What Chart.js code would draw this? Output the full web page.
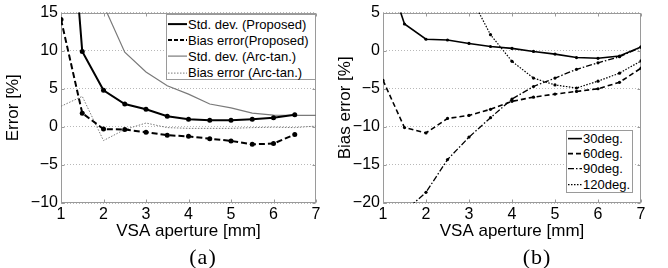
<!DOCTYPE html>
<html>
<head>
<meta charset="utf-8">
<script src="https://cdn.jsdelivr.net/npm/chart.js@4"></script>
<style>
  html, body { margin: 0; padding: 0; background: #fff; }
  body { width: 668px; height: 268px; position: relative; overflow: hidden; font-family: "Liberation Sans", Arial, sans-serif; }
  canvas { position: absolute; top: 0; }
  .legend { position: absolute; background: #fff; border: 1px solid #9a9a9a; box-sizing: border-box; font-size: 13px; color: #000; }
  .legend .row { display: flex; align-items: center; white-space: nowrap; }
  .legend svg { flex: none; }
  .caption { position: absolute; font-family: "Liberation Serif", "Times New Roman", serif; font-size: 22px; color: #000; transform: translateX(-50%); line-height: 1; letter-spacing: 1px; }
</style>
</head>
<body>
<canvas id="cA" width="334" height="245" style="left:0"></canvas>
<canvas id="cB" width="334" height="245" style="left:334px"></canvas>
<div id="legA" class="legend" style="left:166px; top:14px; width:150px; height:66px; padding-top:1px;"></div>
<div id="legB" class="legend" style="left:566px; top:130px; width:67px; height:63px;"></div>
<div class="caption" style="left:203px; top:246px;">(a)</div>
<div class="caption" style="left:537px; top:246px;">(b)</div>
<script>
// ---- data ----
const apertures = [1, 1.5, 2, 2.5, 3, 3.5, 4, 4.5, 5, 5.5, 6, 6.5, 7];
const xTicks = [1, 2, 3, 4, 5, 6, 7];

// (a) Error [%]
const stdProposed  = [45, 9.9, 4.8, 3.0, 2.3, 1.4, 1.0, 0.85, 0.85, 1.0, 1.2, 1.6, null];
const biasProposed = [14.1, 1.8, -0.3, -0.35, -0.7, -1.1, -1.25, -1.55, -1.85, -2.3, -2.2, -1.0, null];
const stdArctan    = [50, 30, 16, 9.8, 7.2, 5.4, 4.3, 3.0, 2.5, 1.8, 1.55, 1.5, 1.5];
const biasArctan   = [2.7, 4.0, -1.8, -0.35, 0.5, -0.1, -0.2, -0.2, -0.2, -0.1, -0.05, -0.1, 0.1];
const yTicksA = [-10, -5, 0, 5, 10, 15];

// (b) Bias error [%]
const deg30  = [12, 3.5, 1.5, 1.4, 0.95, 0.55, 0.3, -0.1, -0.45, -0.9, -1.0, -0.7, 0.5];
const deg60  = [-3.9, -10.1, -10.8, -8.9, -8.5, -7.7, -6.65, -6.1, -5.7, -5.35, -5.0, -4.15, -2.3];
const deg90  = [-27, -21.1, -18.6, -14.3, -11.35, -8.8, -6.35, -4.7, -3.6, -2.45, -1.6, -0.8, 0.45];
const deg120 = [60, 40, 25, 14, 7.5, 2.1, -1.4, -3.6, -4.5, -4.9, -4.0, -2.95, -1.35];
const yTicksB = [-20, -15, -10, -5, 0, 5];

const labelsA = ['Std. dev. (Proposed)', 'Bias error(Proposed)', 'Std. dev. (Arc-tan.)', 'Bias error (Arc-tan.)'];
const labelsB = ['30deg.', '60deg.', '90deg.', '120deg.'];

// ---- helpers ----
const pts = arr => apertures.map((x, i) => ({ x, y: arr[i] }));
const FONT = '"Liberation Sans", Arial, sans-serif';

const boxPlugin = {
  id: 'box',
  beforeDatasetsDraw(chart) {
    const { ctx, chartArea: a, scales: { x, y } } = chart;
    const L = Math.round(a.left) + 0.5, R = Math.round(a.right) - 0.5;
    const T = Math.round(a.top) + 0.5, B = Math.round(a.bottom) - 0.5;
    ctx.save();
    ctx.strokeStyle = '#9a9a9a';
    ctx.lineWidth = 1;
    ctx.setLineDash([]);
    ctx.strokeRect(L, T, R - L, B - T);
    ctx.beginPath();
    x.ticks.forEach(t => {
      const px = Math.round(x.getPixelForValue(t.value)) + 0.5;
      ctx.moveTo(px, T); ctx.lineTo(px, T + 3);
      ctx.moveTo(px, B); ctx.lineTo(px, B - 3);
    });
    y.ticks.forEach(t => {
      const py = Math.round(y.getPixelForValue(t.value)) + 0.5;
      ctx.moveTo(L, py); ctx.lineTo(L + 3, py);
      ctx.moveTo(R, py); ctx.lineTo(R - 3, py);
    });
    ctx.stroke();
    ctx.restore();
  }
};

function makeChart(id, datasets, yMin, yMax, yTicks, yTitle, plotLeft, padLeft, padRight) {
  return new Chart(document.getElementById(id), {
    type: 'line',
    data: { datasets },
    plugins: [boxPlugin],
    options: {
      responsive: false,
      animation: false,
      devicePixelRatio: 1,
      layout: { padding: { left: padLeft, right: padRight, top: 12, bottom: 0 } },
      plugins: { legend: { display: false }, tooltip: { enabled: false } },
      elements: { line: { tension: 0 } },
      scales: {
        x: {
          type: 'linear', min: 1, max: 7,
          afterBuildTicks: s => { s.ticks = xTicks.map(v => ({ value: v })); },
          afterFit: s => { s.height = 42; },
          grid: { display: false, drawTicks: false },
          border: { display: false },
          ticks: { color: '#000', font: { family: FONT, size: 16 }, padding: 2, maxRotation: 0 },
          title: { display: true, text: 'VSA aperture [mm]', color: '#000', font: { family: FONT, size: 17 }, padding: { top: 0, bottom: 3 } }
        },
        y: {
          type: 'linear', min: yMin, max: yMax,
          afterBuildTicks: s => { s.ticks = yTicks.map(v => ({ value: v })); },
          afterFit: s => { s.width = plotLeft - padLeft; },
          grid: { color: '#b8b8b8', lineWidth: 1, drawTicks: false },
          border: { display: false, dash: [1, 2] },
          ticks: { color: '#000', font: { family: FONT, size: 16 }, padding: 3, callback: v => (v < 0 ? '\u2212' + Math.abs(v) : String(v)) },
          title: { display: true, text: yTitle, color: '#000', font: { family: FONT, size: 17 }, padding: { top: 0, bottom: 0 } }
        }
      }
    }
  });
}

const dsA = [
  { label: labelsA[0], data: pts(stdProposed), borderColor: '#000', borderWidth: 2, pointRadius: 2.5, pointBackgroundColor: '#000', pointBorderWidth: 0, legendDash: [] },
  { label: labelsA[1], data: pts(biasProposed), borderColor: '#000', borderWidth: 2, borderDash: [6, 3], pointRadius: 2.5, pointBackgroundColor: '#000', pointBorderWidth: 0, legendDash: [4, 2] },
  { label: labelsA[2], data: pts(stdArctan), borderColor: '#7a7a7a', borderWidth: 1.2, pointRadius: 0 },
  { label: labelsA[3], data: pts(biasArctan), borderColor: '#7a7a7a', borderWidth: 1, borderDash: [1.5, 1.5], pointRadius: 0 }
];
const dsB = [
  { label: labelsB[0], data: pts(deg30), borderColor: '#000', borderWidth: 1.6, pointRadius: 1.6, pointBackgroundColor: '#000', pointBorderWidth: 0 },
  { label: labelsB[1], data: pts(deg60), borderColor: '#000', borderWidth: 1.6, borderDash: [5, 3], pointRadius: 1.6, pointBackgroundColor: '#000', pointBorderWidth: 0 },
  { label: labelsB[2], data: pts(deg90), borderColor: '#000', borderWidth: 1.3, borderDash: [6, 2, 1.5, 2], pointRadius: 1.6, pointBackgroundColor: '#000', pointBorderWidth: 0 },
  { label: labelsB[3], data: pts(deg120), borderColor: '#000', borderWidth: 1.2, borderDash: [1.5, 1.5], pointRadius: 1.6, pointBackgroundColor: '#000', pointBorderWidth: 0 }
];

const chartA = makeChart('cA', dsA, -10, 15, yTicksA, 'Error [%]', 61, 3, 18);
const chartB = makeChart('cB', dsB, -20, 5, yTicksB, 'Bias error [%]', 49, 1, 27);

function buildLegend(el, chart, sampleW, rowH, textPad) {
  chart.data.datasets.forEach(ds => {
    const row = document.createElement('div');
    row.className = 'row';
    row.style.height = rowH + 'px';
    const ns = 'http://www.w3.org/2000/svg';
    const svg = document.createElementNS(ns, 'svg');
    svg.setAttribute('width', sampleW);
    svg.setAttribute('height', rowH);
    const ln = document.createElementNS(ns, 'line');
    ln.setAttribute('x1', 1); ln.setAttribute('x2', sampleW);
    ln.setAttribute('y1', rowH / 2); ln.setAttribute('y2', rowH / 2);
    ln.setAttribute('stroke', ds.borderColor);
    ln.setAttribute('stroke-width', ds.borderWidth);
    const dash = ds.legendDash || ds.borderDash || [];
    if (dash.length) ln.setAttribute('stroke-dasharray', dash.join(' '));
    svg.appendChild(ln);
    const span = document.createElement('span');
    span.textContent = ds.label;
    span.style.paddingLeft = textPad + 'px';
    row.appendChild(svg);
    row.appendChild(span);
    el.appendChild(row);
  });
}
buildLegend(document.getElementById('legA'), chartA, 20, 16.2, 1);
buildLegend(document.getElementById('legB'), chartB, 15, 15.2, 1);
</script>
</body>
</html>
